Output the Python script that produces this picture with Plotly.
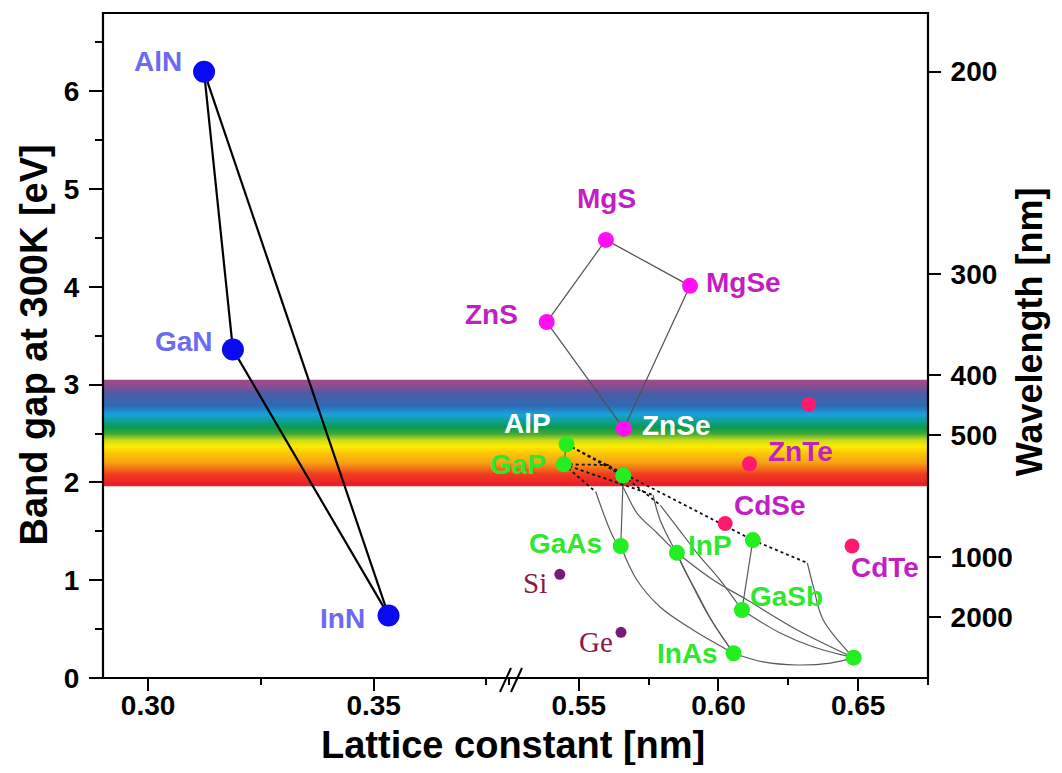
import plotly.graph_objects as go

# ---------------- data ----------------
nitride_names = ["AlN", "GaN", "InN"]
nitride_a = [0.3124, 0.3188, 0.3533]
nitride_eg = [6.20, 3.36, 0.64]

iiiv_names = ["AlP", "GaP", "AlAs", "GaAs", "InP", "AlSb", "GaSb", "InAs", "InSb"]
iiiv_a = [0.5456, 0.5446, 0.5659, 0.5650, 0.5851, 0.6123, 0.6084, 0.6054, 0.6484]
iiiv_eg = [2.39, 2.185, 2.07, 1.35, 1.28, 1.41, 0.695, 0.253, 0.208]
iiiv_labels = ["AlP", "GaP", "", "GaAs", "InP", "", "GaSb", "InAs", ""]

mg_names = ["MgS", "MgSe", "ZnS", "ZnSe"]
mg_a = [0.5597, 0.5898, 0.5385, 0.5661]
mg_eg = [4.48, 4.01, 3.64, 2.55]

cd_names = ["ZnTe", "CdSe", "CdTe", ""]
cd_a = [0.6111, 0.6024, 0.6478, 0.6323]
cd_eg = [2.19, 1.58, 1.35, 2.80]

iv_names = ["Si", "Ge"]
iv_a = [0.5432, 0.5651]
iv_eg = [1.06, 0.467]

nitride_links = [("AlN", "GaN"), ("GaN", "InN"), ("AlN", "InN")]
iivi_links = [("ZnS", "MgS"), ("MgS", "MgSe"), ("MgSe", "ZnSe"), ("ZnSe", "ZnS")]

# ternary curves (lattice constant list, band gap list)
solid_curves = {
    "AlGaP": ([0.5456, 0.5446], [2.39, 2.185]),
    "GaAsP": ([0.5561, 0.5629, 0.5650], [1.902, 1.411, 1.35]),
    "AlGaAs": ([0.5659, 0.5650], [2.07, 1.35]),
    "GaInP": ([0.5611, 0.5658, 0.5708, 0.5780, 0.5851], [2.178, 1.953, 1.687, 1.483, 1.28]),
    "GaInAsP": ([0.5766, 0.5791, 0.5862, 0.5959, 0.6054], [1.871, 1.616, 1.207, 0.665, 0.253]),
    "AlAsSb": ([0.5791, 0.5852, 0.5923, 0.6006, 0.6084], [1.769, 1.544, 1.278, 1.002, 0.695]),
    "InAsP": ([0.5851, 0.5873, 0.5923, 0.5981, 0.6054], [1.28, 1.135, 0.869, 0.562, 0.253]),
    "InPSb": ([0.5851, 0.5981, 0.6103, 0.6282, 0.6484], [1.28, 1.002, 0.798, 0.491, 0.208]),
    "InGaAs": ([0.5650, 0.5708, 0.5791, 0.5909, 0.6054], [1.35, 1.002, 0.726, 0.491, 0.253]),
    "InGaSb": ([0.6084, 0.6221, 0.6340, 0.6484], [0.695, 0.460, 0.317, 0.208]),
    "InAsSb": ([0.6054, 0.6160, 0.6282, 0.6401, 0.6484], [0.253, 0.164, 0.133, 0.153, 0.208]),
    "AlGaSb": ([0.6123, 0.6084], [1.41, 0.695]),
    "AlInSb": ([0.6318, 0.6340, 0.6375, 0.6484], [1.176, 0.930, 0.593, 0.208]),
}
dotted_curves = {
    "AlPSb": ([0.5456, 0.6123], [2.39, 1.41]),
    "AlInSb_i": ([0.6123, 0.6318], [1.41, 1.176]),
    "GaAsP_i": ([0.5446, 0.5561], [2.185, 1.902]),
    "GaInP_i": ([0.5446, 0.5611], [2.185, 2.178]),
    "GaP_x": ([0.5446, 0.5766], [2.185, 1.871]),
    "AlAs_x": ([0.5659, 0.5791], [2.07, 1.769]),
    "AlPAs": ([0.5456, 0.5659], [2.39, 2.07]),
}

wavelength_ticks = [200, 300, 400, 500, 1000, 2000]
visible_band = (1.96, 3.04)

# ---------------- styling ----------------
FONT = "Liberation Sans, Arial, sans-serif"
SERIF = "Liberation Serif, Times New Roman, serif"
LEFT_RANGE = [0.29, 0.38]
RIGHT_RANGE = [0.525, 0.675]
SPLIT = 0.4921
Y_RANGE = [0, 6.8]

label_offsets = {  # pixel shifts of the label centre from its dot
    "AlN": (-46, 10), "GaN": (-49, 8), "InN": (-46, -3),
    "MgS": (1, 41), "MgSe": (53, 3), "ZnS": (-55, 8), "ZnSe": (52, 3),
    "ZnTe": (51, 12), "CdSe": (45, 18), "CdTe": (33, -22),
    "AlP": (-39, 21), "GaP": (-46, 0), "GaAs": (-55, 2), "InP": (33, 7),
    "GaSb": (45, 14), "InAs": (-46, 0),
    "Si": (-25, -9), "Ge": (-25, -10),
}

fig = go.Figure()

# visible spectrum band
stops = [(0.0, (161, 74, 134)), (0.06, (146, 76, 142)), (0.14, (75, 92, 168)),
         (0.26, (47, 108, 181)), (0.34, (24, 162, 220)), (0.40, (16, 160, 150)),
         (0.46, (12, 154, 80)), (0.52, (62, 168, 58)), (0.58, (200, 220, 26)),
         (0.64, (255, 236, 0)), (0.70, (252, 200, 8)), (0.80, (246, 160, 20)),
         (0.90, (240, 64, 32)), (1.0, (232, 30, 40))]


def band_color(f):
    for (f0, c0), (f1, c1) in zip(stops[:-1], stops[1:]):
        if f0 <= f <= f1:
            t = (f - f0) / (f1 - f0) if f1 > f0 else 0
            return "rgb(%d,%d,%d)" % tuple(round(c0[i] + (c1[i] - c0[i]) * t) for i in range(3))
    return "rgb(%d,%d,%d)" % stops[-1][1]


lo, hi = visible_band
n_strips = 108
step = (hi - lo) / n_strips
for i in range(n_strips):
    e_top = hi - step * i
    e_bot = e_top - step
    fig.add_shape(type="rect", xref="paper", yref="y", x0=0, x1=1,
                  y0=e_bot, y1=e_top + (0.02 if i > 0 else 0),
                  fillcolor=band_color((i + 0.5) / n_strips), line_width=0, layer="below")

# nitride lines
nidx = {n: i for i, n in enumerate(nitride_names)}
for p, q in nitride_links:
    fig.add_trace(go.Scatter(x=[nitride_a[nidx[p]], nitride_a[nidx[q]]],
                             y=[nitride_eg[nidx[p]], nitride_eg[nidx[q]]],
                             mode="lines", line=dict(color="black", width=2.2),
                             xaxis="x", yaxis="y", showlegend=False, hoverinfo="skip"))

# II-VI lines
midx = {n: i for i, n in enumerate(mg_names)}
for p, q in iivi_links:
    fig.add_trace(go.Scatter(x=[mg_a[midx[p]], mg_a[midx[q]]], y=[mg_eg[midx[p]], mg_eg[midx[q]]],
                             mode="lines", line=dict(color="#505050", width=1.2),
                             xaxis="x2", yaxis="y", showlegend=False, hoverinfo="skip"))

for name, (ax_, ey_) in solid_curves.items():
    fig.add_trace(go.Scatter(x=ax_, y=ey_, mode="lines",
                             line=dict(color="#5a5a5a", width=1.2, shape="spline", smoothing=1.0),
                             xaxis="x2", yaxis="y", showlegend=False, name=name, hoverinfo="skip"))
for name, (ax_, ey_) in dotted_curves.items():
    fig.add_trace(go.Scatter(x=ax_, y=ey_, mode="lines",
                             line=dict(color="#111111", width=1.8, dash="dot"),
                             xaxis="x2", yaxis="y", showlegend=False, name=name, hoverinfo="skip"))

# markers
fig.add_trace(go.Scatter(x=nitride_a, y=nitride_eg, mode="markers", text=nitride_names,
                         marker=dict(size=22, color="#0a0af0"), xaxis="x", yaxis="y", showlegend=False))
fig.add_trace(go.Scatter(x=mg_a, y=mg_eg, mode="markers", text=mg_names,
                         marker=dict(size=16, color="#ff10f0"), xaxis="x2", yaxis="y", showlegend=False))
# this trace sits on the (identically scaled) right-hand wavelength axis so that axis is drawn
fig.add_trace(go.Scatter(x=cd_a, y=cd_eg, mode="markers", text=cd_names,
                         marker=dict(size=15, color="#ff1a6e"), xaxis="x2", yaxis="y2", showlegend=False))
fig.add_trace(go.Scatter(x=iiiv_a, y=iiiv_eg, mode="markers", text=iiiv_names,
                         marker=dict(size=16, color="#22ee22"), xaxis="x2", yaxis="y", showlegend=False))
fig.add_trace(go.Scatter(x=iv_a, y=iv_eg, mode="markers", text=iv_names,
                         marker=dict(size=11, color="#7a1a78"), xaxis="x2", yaxis="y", showlegend=False))


def add_labels(names, xs, ys, xref, color, family=FONT, size=28, bold=True):
    for n, xv, yv in zip(names, xs, ys):
        if not n:
            continue
        dx, dy = label_offsets[n]
        fig.add_annotation(x=xv, y=yv, xref=xref, yref="y", text=("<b>%s</b>" % n) if bold else n,
                           showarrow=False, xshift=dx, yshift=dy, xanchor="center", yanchor="middle",
                           font=dict(family=family, size=size, color=color))


add_labels(nitride_names, nitride_a, nitride_eg, "x", "#6a6af2")
add_labels(mg_names[:3], mg_a[:3], mg_eg[:3], "x2", "#c21ec4")
add_labels(["ZnSe"], [mg_a[3]], [mg_eg[3]], "x2", "white")
add_labels(cd_names, cd_a, cd_eg, "x2", "#c21ec4")
add_labels(["AlP"], [iiiv_a[0]], [iiiv_eg[0]], "x2", "white")
add_labels(iiiv_labels[1:], iiiv_a[1:], iiiv_eg[1:], "x2", "#2ee82e")
add_labels(iv_names, iv_a, iv_eg, "x2", "#8a1a4c", family=SERIF, size=29, bold=False)

# axis titles
fig.add_annotation(text="<b>Lattice constant [nm]</b>", xref="paper", yref="paper", x=0.497, y=0,
                   yshift=-67, showarrow=False, xanchor="center", yanchor="middle",
                   font=dict(family=FONT, size=38, color="black"))
fig.add_annotation(text="<b>Band gap at 300K [eV]</b>", xref="paper", yref="paper", x=0, y=0.5,
                   xshift=-70, showarrow=False, textangle=-90, xanchor="center", yanchor="middle",
                   font=dict(family=FONT, size=38, color="black"))
fig.add_annotation(text="<b>Wavelength [nm]</b>", xref="paper", yref="paper", x=1, y=0.52,
                   xshift=101, showarrow=False, textangle=-90, xanchor="center", yanchor="middle",
                   font=dict(family=FONT, size=36, color="black"))

# frame and break marks
fig.add_shape(type="rect", xref="paper", yref="paper", x0=0, x1=1, y0=0, y1=1,
              line=dict(color="black", width=2.2), layer="above")
for x0p in (-9, 2):
    fig.add_shape(type="line", xref="paper", yref="paper", xsizemode="pixel", ysizemode="pixel",
                  xanchor=SPLIT, yanchor=0, x0=x0p, x1=x0p + 11, y0=-14, y1=10,
                  line=dict(color="black", width=2))

tickfont = dict(family=FONT, size=28, color="black")
common_x = dict(ticks="outside", ticklen=12, tickwidth=2, tickcolor="black", showgrid=False,
                zeroline=False, showline=False, tickfont=tickfont, tickformat=".2f",
                automargin=False, ticklabelstandoff=-10,
                tickprefix="<b>", ticksuffix="</b>",
                minor=dict(ticks="outside", ticklen=6, tickwidth=2, tickcolor="black", dtick=0.025))
fig.update_layout(
    width=1046, height=757, paper_bgcolor="white", plot_bgcolor="white",
    margin=dict(l=95, r=126, t=5, b=87, autoexpand=False),
    font=dict(family=FONT),
    xaxis=dict(domain=[0, SPLIT], range=LEFT_RANGE, tick0=0.30, dtick=0.05, anchor="y", **common_x),
    xaxis2=dict(domain=[SPLIT, 1], range=RIGHT_RANGE, tick0=0.55, dtick=0.05, anchor="y", **common_x),
    yaxis=dict(range=Y_RANGE, domain=[0, 1], anchor="x", dtick=1, tick0=0, ticks="outside", ticklen=13,
               tickwidth=2, tickcolor="black", showgrid=False, zeroline=False, showline=False,
               automargin=False, ticklabelstandoff=4, tickprefix="<b>", ticksuffix="</b>",
               tickfont=tickfont, minor=dict(ticks="outside", ticklen=7, tickwidth=2,
                                             tickcolor="black", dtick=0.5)),
    yaxis2=dict(range=Y_RANGE, overlaying="y", side="right", anchor="x2", tickmode="array",
                tickvals=[1240.0 / w for w in wavelength_ticks],
                ticktext=["<b>%d</b>" % w for w in wavelength_ticks], ticks="outside", ticklen=12,
                tickwidth=2, tickcolor="black", showgrid=False, zeroline=False, showline=False,
                automargin=False, ticklabelstandoff=4, tickfont=tickfont),
)

fig.write_html("out.html")
